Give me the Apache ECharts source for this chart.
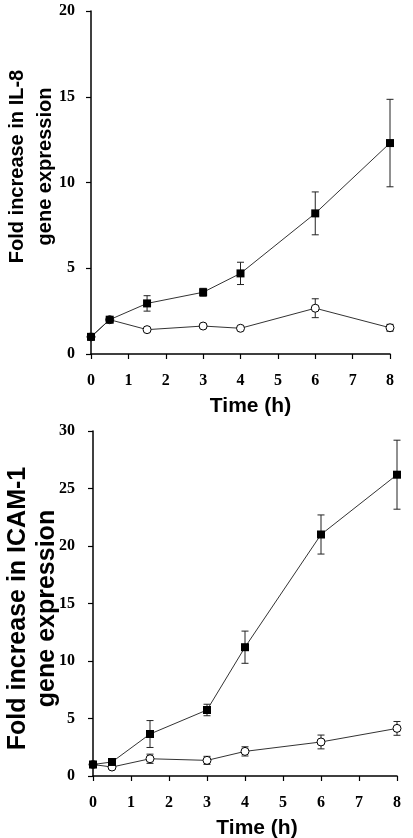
<!DOCTYPE html>
<html>
<head>
<meta charset="utf-8">
<script src="https://cdn.jsdelivr.net/npm/echarts@6/dist/echarts.min.js"></script>
<style>
html,body{margin:0;padding:0;background:#fff;}
#chart{width:413px;height:838px;}
</style>
</head>
<body>
<div id="chart"></div>
<script>
// ---- data ----
var timePoints = [0, 0.5, 1.5, 3, 4, 6, 8];
var il8Treated = [1.0, 2.0, 2.95, 3.6, 4.7, 8.2, 12.3];
var il8TreatedErr = [0, 0.1, 0.45, 0.23, 0.65, 1.25, 2.55];
var il8Control = [1.0, 2.0, 1.42, 1.63, 1.5, 2.67, 1.53];
var il8ControlErr = [0, 0, 0.05, 0.08, 0.05, 0.55, 0.2];
var icamTreated = [1.0, 1.22, 3.65, 5.74, 11.2, 21.0, 26.2];
var icamTreatedErr = [0, 0.1, 1.17, 0.5, 1.4, 1.7, 3.0];
var icamControl = [1.0, 0.78, 1.5, 1.36, 2.14, 2.96, 4.14];
var icamControlErr = [0, 0.1, 0.4, 0.35, 0.4, 0.6, 0.6];
var il8Title = 'Fold increase in IL-8\ngene expression';
var icamTitle = 'Fold increase in ICAM-1\ngene expression';
var xTitle = 'Time (h)';

function pairs(xs, ys) { return xs.map(function (x, i) { return [x, ys[i]]; }); }
function errData(xs, ys, es) { return xs.map(function (x, i) { return [x, ys[i] - es[i], ys[i] + es[i]]; }); }

function errSeries(idx, data) {
  return {
    type: 'custom', xAxisIndex: idx, yAxisIndex: idx, z: 1,
    data: data,
    renderItem: function (params, api) {
      var x = api.value(0), lo = api.value(1), hi = api.value(2);
      if (hi - lo <= 0) return null;
      var p1 = api.coord([x, lo]), p2 = api.coord([x, hi]);
      var w = 3.5;
      var st = { stroke: '#222', lineWidth: 1 };
      return { type: 'group', children: [
        { type: 'line', shape: { x1: p1[0], y1: p1[1], x2: p2[0], y2: p2[1] }, style: st },
        { type: 'line', shape: { x1: p1[0] - w, y1: p1[1], x2: p1[0] + w, y2: p1[1] }, style: st },
        { type: 'line', shape: { x1: p2[0] - w, y1: p2[1], x2: p2[0] + w, y2: p2[1] }, style: st }
      ]};
    }
  };
}

function lineSeries(idx, data, filled) {
  return {
    type: 'line', xAxisIndex: idx, yAxisIndex: idx, z: 3,
    data: data,
    symbol: filled ? 'rect' : 'circle',
    symbolSize: 8,
    showAllSymbol: true,
    lineStyle: { color: '#333', width: 1 },
    itemStyle: filled ? { color: '#000', borderColor: '#000', borderWidth: 0 }
                      : { color: '#fff', borderColor: '#000', borderWidth: 1 },
    emphasis: { disabled: true },
    animation: false
  };
}

var tickFont = { fontFamily: 'Liberation Serif', fontWeight: 'bold', fontSize: 16, color: '#000' };

function xAxis(idx, padLeft, gap) {
  return {
    type: 'value', gridIndex: idx, min: 0, max: 8, interval: 1,
    name: xTitle, nameLocation: 'middle', nameGap: gap, nameMoveOverlap: false,
    nameTextStyle: { fontFamily: 'Liberation Sans', fontWeight: 'bold', fontSize: 21, color: '#000', padding: [0, 0, 0, padLeft] },
    axisLine: { onZero: false, lineStyle: { color: '#000', width: 1.5 } },
    axisTick: { show: true, length: 5, lineStyle: { color: '#000', width: 1.2 } },
    axisLabel: Object.assign({ margin: 19 }, tickFont),
    splitLine: { show: false }
  };
}
function yAxis(idx, max, title, gap, fontSize, lh, pad, labelMargin) {
  return {
    type: 'value', gridIndex: idx, min: 0, max: max, interval: 5,
    name: title, nameLocation: 'middle', nameGap: gap, nameRotate: 90, nameMoveOverlap: false,
    nameTextStyle: { fontFamily: 'Liberation Sans', fontWeight: 'bold', fontSize: fontSize, lineHeight: lh, color: '#000', align: 'center', padding: pad },
    axisLine: { show: true, onZero: false, lineStyle: { color: '#000', width: 1.5 } },
    axisTick: { show: true, length: 5, lineStyle: { color: '#000', width: 1.2 } },
    axisLabel: Object.assign({ margin: labelMargin }, tickFont),
    splitLine: { show: false }
  };
}

var chart = echarts.init(document.getElementById('chart'), null, { renderer: 'canvas' });
chart.setOption({
  backgroundColor: '#fff',
  animation: false,
  grid: [
    { left: 91, right: 23, top: 11, height: 343, containLabel: false, outerBoundsMode: 'none' },
    { left: 93, right: 16, top: 431, height: 345, containLabel: false, outerBoundsMode: 'none' }
  ],
  xAxis: [xAxis(0, 20, 42), xAxis(1, 24, 42)],
  yAxis: [
    yAxis(0, 20, il8Title, 32, 20, 28, [0, 0, 0, 32], 16),
    yAxis(1, 30, icamTitle, 31, 25, 29, [0, 10, 0, 0], 18)
  ],
  series: [
    errSeries(0, errData(timePoints, il8Treated, il8TreatedErr)),
    errSeries(0, errData(timePoints, il8Control, il8ControlErr)),
    lineSeries(0, pairs(timePoints, il8Control), false),
    lineSeries(0, pairs(timePoints, il8Treated), true),
    errSeries(1, errData(timePoints, icamTreated, icamTreatedErr)),
    errSeries(1, errData(timePoints, icamControl, icamControlErr)),
    lineSeries(1, pairs(timePoints, icamControl), false),
    lineSeries(1, pairs(timePoints, icamTreated), true)
  ]
});
</script>
</body>
</html>
